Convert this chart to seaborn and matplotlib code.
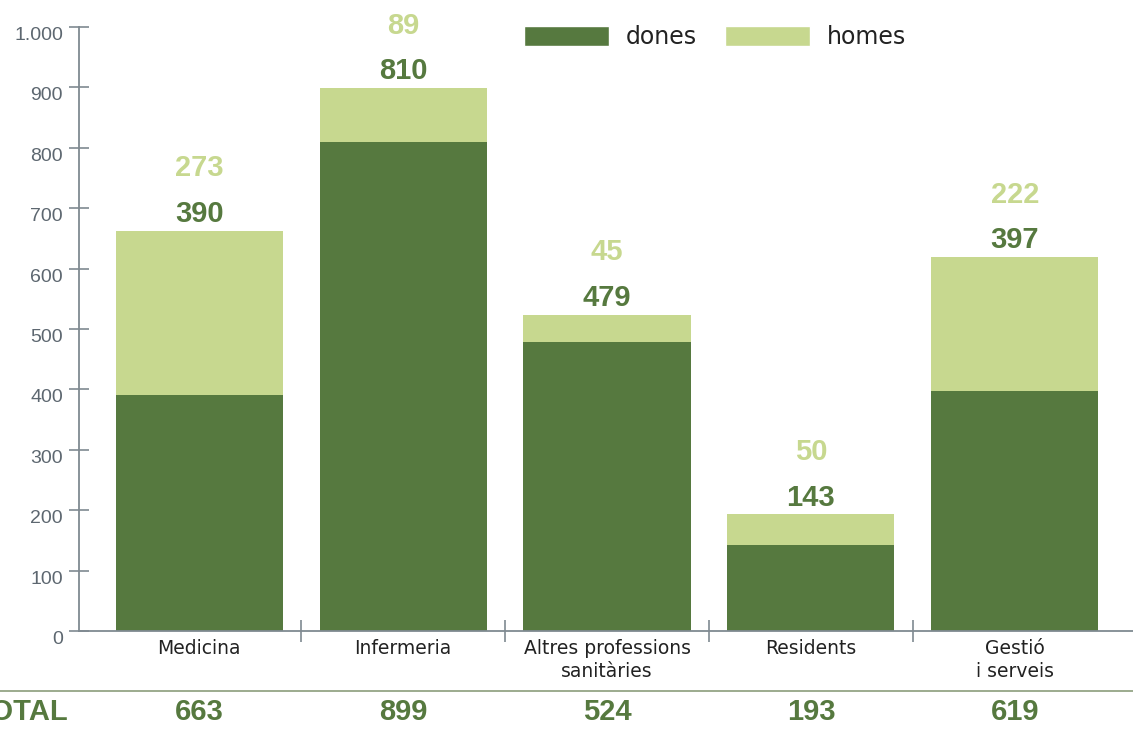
import matplotlib
matplotlib.use("Agg")
import matplotlib.pyplot as plt
import seaborn as sns
import pandas as pd
from matplotlib.patches import Patch
from matplotlib.ticker import FuncFormatter, FixedLocator
from matplotlib.lines import Line2D

categories = ["Medicina", "Infermeria", "Altres professions\nsanitàries", "Residents", "Gestió\ni serveis"]
dones = [390, 810, 479, 143, 397]
homes = [273, 89, 45, 50, 222]
totals = [663, 899, 524, 193, 619]
yticks = [0, 100, 200, 300, 400, 500, 600, 700, 800, 900, 1000]

DARK = "#56793f"
LIGHT = "#c7d88f"
AXC = "#7f8a91"
TXT = "#5d6770"

sns.set_theme(style="white")
plt.rcParams["font.family"] = ["Liberation Sans", "DejaVu Sans"]

df = pd.DataFrame({"cat": categories, "dones": dones, "homes": homes, "total": totals})

fig = plt.figure(figsize=(11.33, 7.29), dpi=100)
ax = fig.add_axes([79/1133, 98/729, 1 - 79/1133, (631-27)/729])

sns.barplot(data=df, x="cat", y="total", color=LIGHT, width=0.82, saturation=1, ax=ax,
            order=categories, linewidth=0, edgecolor="none")
sns.barplot(data=df, x="cat", y="dones", color=DARK, width=0.82, saturation=1, ax=ax,
            order=categories, linewidth=0, edgecolor="none")

ax.set_xlim(-0.59, 4.58)
ax.set_ylim(0, 1000)
ax.set_xlabel("")
ax.set_ylabel("")

for s in ["top", "right"]:
    ax.spines[s].set_visible(False)
for s in ["left", "bottom"]:
    ax.spines[s].set_color(AXC)
    ax.spines[s].set_linewidth(1.3)

ax.yaxis.set_major_locator(FixedLocator(yticks))
ax.yaxis.set_major_formatter(FuncFormatter(lambda v, p: f"{int(v):,}".replace(",", ".")))
ax.tick_params(axis="y", left=True, direction="inout", length=15, width=1.2, color=AXC,
               labelcolor=TXT, labelsize=14, pad=4)
for lbl in ax.get_yticklabels():
    lbl.set_verticalalignment("top")

ax.set_xticks(range(len(categories)))
ax.set_xticklabels(categories, fontsize=13.5, color="#222222", family=["DejaVu Sans"], linespacing=1.25)
ax.tick_params(axis="x", which="major", bottom=False, length=0, pad=6)
ax.set_xticks([i + 0.5 for i in range(len(categories) - 1)], minor=True)
ax.tick_params(axis="x", which="minor", bottom=True, direction="inout", length=16, width=1.2, color=AXC)

for i, (d, h, t) in enumerate(zip(dones, homes, totals)):
    ax.annotate(str(d), (i, t), xytext=(0, 12), textcoords="offset points", ha="center", va="center",
                fontsize=21, fontweight="bold", color=DARK, annotation_clip=False)
    ax.annotate(str(h), (i, t), xytext=(0, 45), textcoords="offset points", ha="center", va="center",
                fontsize=21, fontweight="bold", color=LIGHT, annotation_clip=False)

# total row
fig.add_artist(Line2D([0, 1], [38/729, 38/729], color="#94a586", lw=1.3, transform=fig.transFigure))
fig.text(68/1133, 17/729, "TOTAL", ha="right", va="center", fontsize=21, fontweight="bold", color=DARK)
trans = matplotlib.transforms.blended_transform_factory(ax.transData, fig.transFigure)
for i, t in enumerate(totals):
    ax.text(i, 17/729, str(t), transform=trans, ha="center", va="center", fontsize=21,
            fontweight="bold", color=DARK, clip_on=False)

handles = [Patch(facecolor=DARK, label="dones"), Patch(facecolor=LIGHT, label="homes")]
leg = fig.legend(handles=handles, loc="center left", bbox_to_anchor=(503/1133, 1 - 37/729), ncol=2,
                 frameon=False, handlelength=3.6, handleheight=0.95, columnspacing=1.2,
                 handletextpad=0.7, prop={"family": ["DejaVu Sans"], "size": 17})
for t in leg.get_texts():
    t.set_color("#222222")

fig.savefig("out.png", dpi=100)
